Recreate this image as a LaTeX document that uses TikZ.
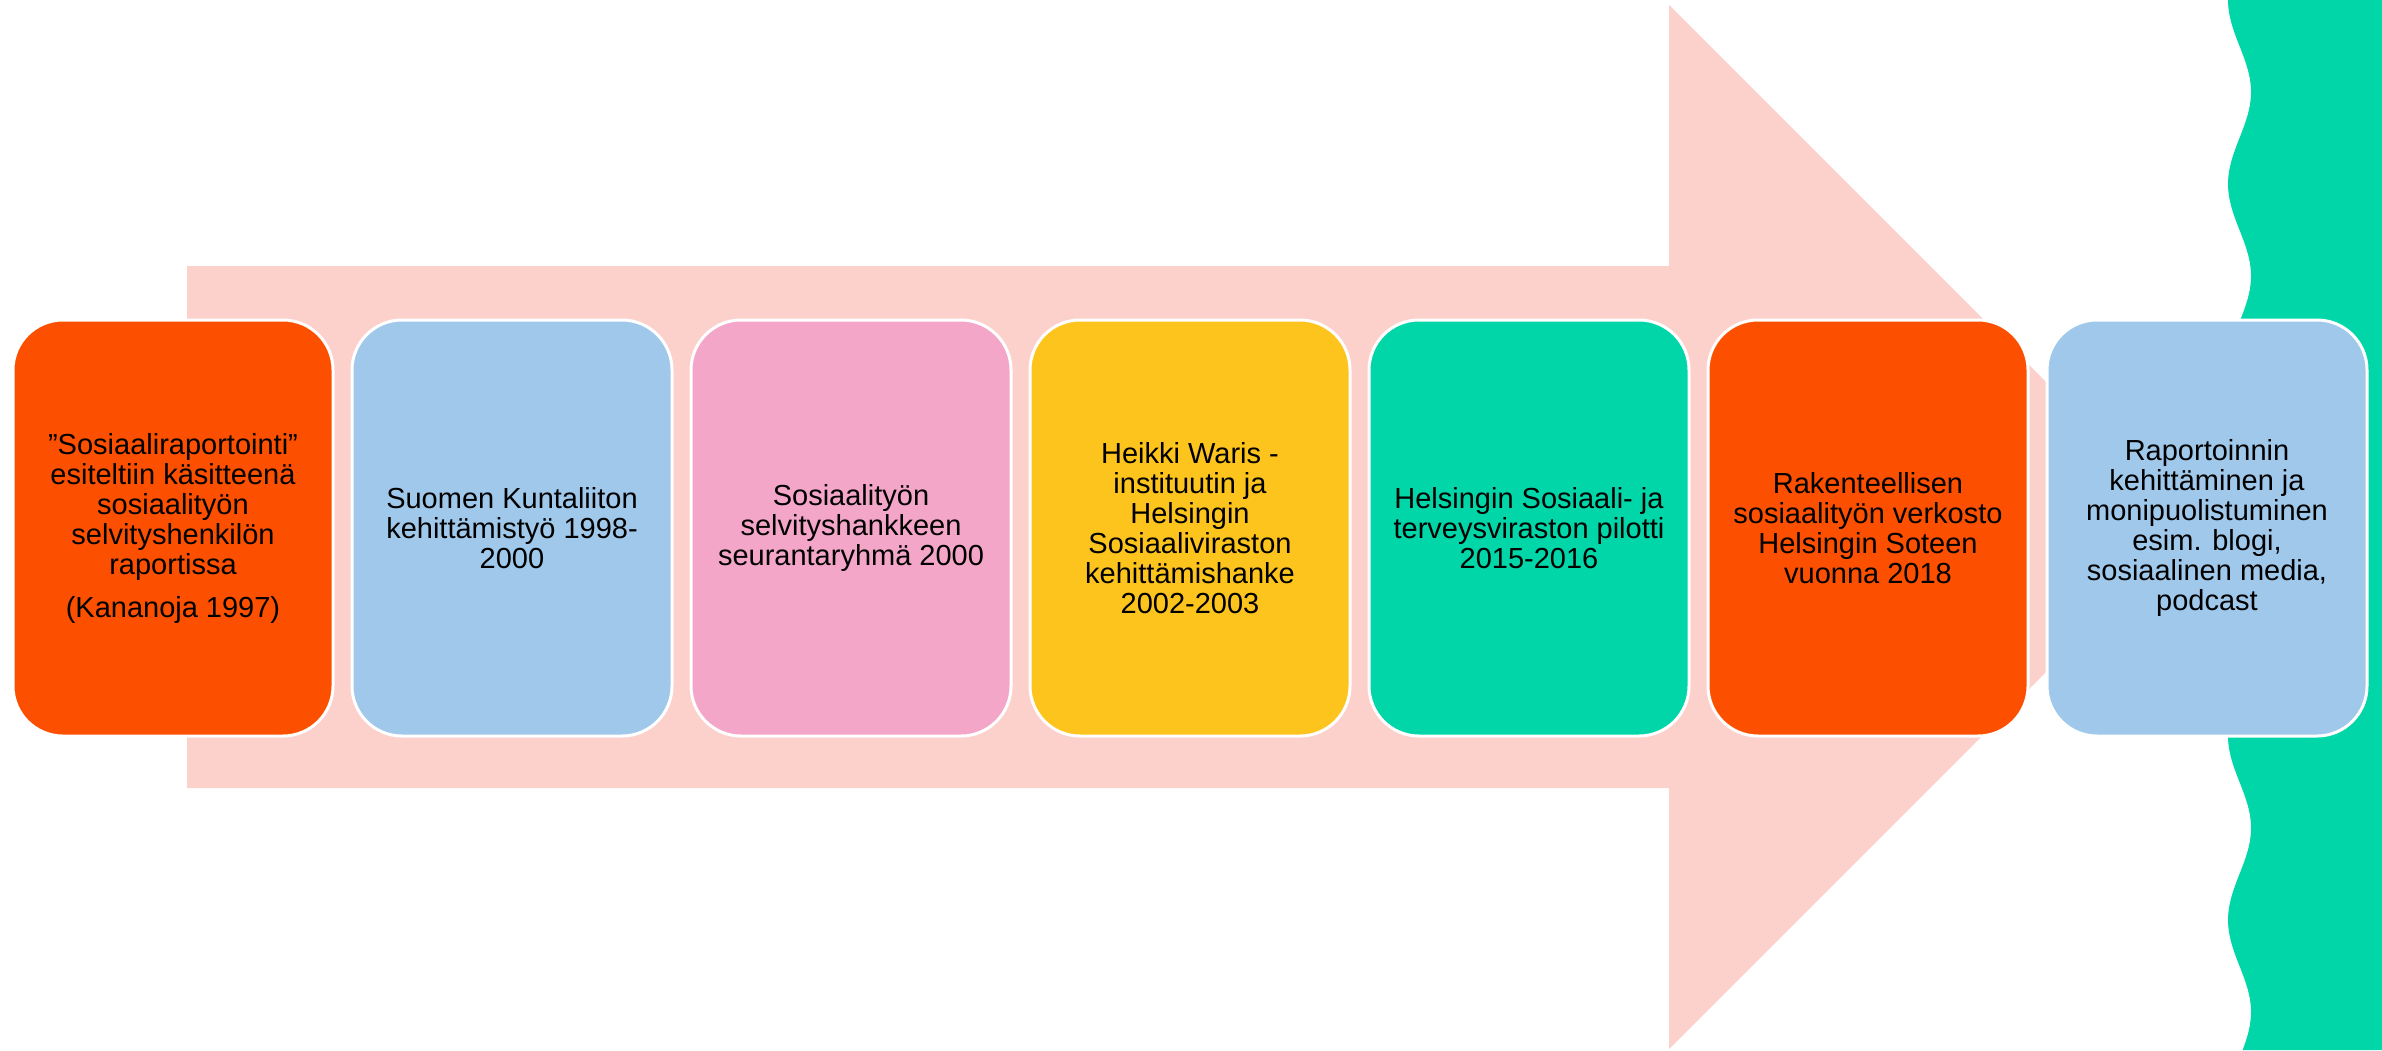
\documentclass[tikz,border=0pt]{standalone}
\usepackage{fontspec}
\setmainfont{Liberation Sans}
\usepackage{tikz}

\definecolor{arrowpink}{RGB}{252,209,204}
\definecolor{boxorange}{RGB}{252,80,0}
\definecolor{boxblue}{RGB}{160,200,235}
\definecolor{boxpink}{RGB}{244,166,201}
\definecolor{boxyellow}{RGB}{254,196,30}
\definecolor{boxgreen}{RGB}{0,214,167}

\begin{document}
\begin{tikzpicture}[x=0.5pt,y=-0.5pt,
    stepbox/.style={draw=white,line width=1.5pt,rounded corners=25pt,
        minimum width=160pt,minimum height=208pt,inner sep=0pt,
        align=center,text=black,font=\fontsize{14.5}{15}\selectfont}]

\useasboundingbox (0,0) rectangle (2382,1050);

% Green wave at the right edge
\fill[boxgreen] plot[domain=0:1050,samples=240] ({2239.5-11.5*cos(\x/184*360)},\x)
    -- (2382,1050) -- (2382,0) -- cycle;

% Big arrow behind the steps
\fill[arrowpink] (187,266) -- (1669,266) -- (1669,5) -- (2191,527)
    -- (1669,1049) -- (1669,788) -- (187,788) -- cycle;

% The seven steps
\node[stepbox,fill=boxorange] (s1) at (173,528)
    {”Sosiaaliraportointi”\\esiteltiin käsitteenä\\sosiaalityön\\selvityshenkilön\\raportissa\\[6.5pt](Kananoja 1997)};
\node[stepbox,fill=boxblue] (s2) at (512,528)
    {Suomen Kuntaliiton\\kehittämistyö 1998-\\2000};
\node[stepbox,fill=boxpink] (s3) at (851,528)
    {Sosiaalityön\\selvityshankkeen\\seurantaryhmä 2000};
\node[stepbox,fill=boxyellow] (s4) at (1190,528)
    {Heikki Waris -\\instituutin ja\\Helsingin\\Sosiaaliviraston\\kehittämishanke\\2002-2003};
\node[stepbox,fill=boxgreen] (s5) at (1529,528)
    {Helsingin Sosiaali- ja\\terveysviraston pilotti\\2015-2016};
\node[stepbox,fill=boxorange] (s6) at (1868,528)
    {Rakenteellisen\\sosiaalityön verkosto\\Helsingin Soteen\\vuonna 2018};
\node[stepbox,fill=boxblue] (s7) at (2207,528)
    {Raportoinnin\\kehittäminen ja\\monipuolistuminen\\esim. blogi,\\sosiaalinen media,\\podcast};

\end{tikzpicture}
\end{document}
